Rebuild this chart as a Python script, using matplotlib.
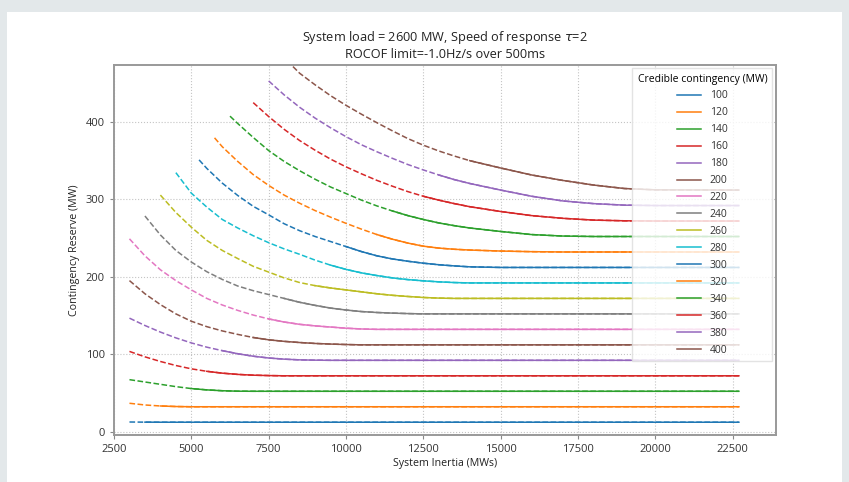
import matplotlib
matplotlib.use("Agg")
import matplotlib.pyplot as plt
from matplotlib.patches import Rectangle

# ---------------- data ----------------
contingency = [100, 120, 140, 160, 180, 200, 220, 240, 260, 280, 300, 320, 340, 360, 380, 400]

# first point of every curve (inertia MWs, reserve MW)
start_inertia = [3000, 3000, 3000, 3000, 3000, 3000, 3000, 3500, 4000, 4500, 5250, 5750, 6250, 7000, 7500, 8100]
start_reserve = [12.3, 36.5, 67, 103.5, 146.5, 195, 249, 278.5, 305.5, 334.5, 351, 379.5, 407.5, 425, 453, 479]

# inertia above which the curve is drawn solid
solid_from = [3200, 4000, 4800, 5450, 6000, 6700, 7300, 8000, 8700, 9400, 10000, 10700, 11400, 12100, 12800, 13600]

inertia = [3000, 3500, 4000, 4500, 5000, 5500, 6000, 6500, 7000, 7500,
           8000, 8500, 9000, 9500, 10000, 10500, 11000, 11500, 12000, 12500,
           13000, 13500, 14000, 15000, 16000, 17000, 18000, 19000, 20000, 22700]

N = None
r100 = [N, 12.1, 12, 12, 12, 12, 12, 12, 12, 12, 12, 12, 12, 12, 12, 12, 12, 12, 12, 12, 12, 12, 12, 12, 12, 12, 12, 12, 12, 12]
r120 = [N, 34.3, 33, 32.3, 32, 32, 32, 32, 32, 32, 32, 32, 32, 32, 32, 32, 32, 32, 32, 32, 32, 32, 32, 32, 32, 32, 32, 32, 32, 32]
r140 = [N, 64, 61, 58, 55.5, 53.8, 52.7, 52.1, 52, 52, 52, 52, 52, 52, 52, 52, 52, 52, 52, 52, 52, 52, 52, 52, 52, 52, 52, 52, 52, 52]
r160 = [N, 96.5, 90.5, 85.3, 81, 77.8, 75.4, 73.8, 72.8, 72.3, 72, 72, 72, 72, 72, 72, 72, 72, 72, 72, 72, 72, 72, 72, 72, 72, 72, 72, 72, 72]
r180 = [N, 137, 128.5, 121, 114.5, 109, 104.5, 100.5, 97.3, 95, 93.5, 92.6, 92.2, 92, 92, 92, 92, 92, 92, 92, 92, 92, 92, 92, 92, 92, 92, 92, 92, 92]
r200 = [N, 178, 164, 152, 142.5, 135.5, 130, 125.5, 121.5, 118.5, 116.5, 115, 113.8, 113, 112.4, 112, 112, 112, 112, 112, 112, 112, 112, 112, 112, 112, 112, 112, 112, 112]
r220 = [N, 227, 209, 195, 183, 172, 163.5, 156.5, 150.5, 145.5, 141.5, 138.5, 136.5, 135, 133.5, 132.5, 132, 132, 132, 132, 132, 132, 132, 132, 132, 132, 132, 132, 132, 132]
r240 = [N, N, 254, 234, 219, 206.5, 196.5, 188, 182, 177, 172, 167, 163, 159.5, 157, 155, 153.8, 153, 152.4, 152, 152, 152, 152, 152, 152, 152, 152, 152, 152, 152]
r260 = [N, N, N, 283, 264, 247, 234, 223.5, 213.5, 206, 198.5, 192.5, 188.5, 185.5, 183, 180.5, 178, 176, 174.5, 173.2, 172.4, 172, 172, 172, 172, 172, 172, 172, 172, 172]
r280 = [N, N, N, N, 308, 290, 274, 263, 253, 244, 236, 229, 221.5, 215, 209.5, 205, 201.5, 198.5, 196.3, 194.7, 193.4, 192.5, 192, 192, 192, 192, 192, 192, 192, 192]
r300 = [N, N, N, N, N, 340, 321, 305, 291, 280, 268.5, 259.5, 252, 245.5, 239, 232.5, 227, 223, 220, 217.5, 215.5, 214, 212.8, 212, 212, 212, 212, 212, 212, 212]
r320 = [N, N, N, N, N, N, 368, 349, 332, 318, 305.5, 295, 285.5, 277, 269, 261.5, 254.5, 248.5, 243.5, 239.5, 237, 235.5, 234.5, 233.2, 232.4, 232, 232, 232, 232, 232]
r340 = [N, N, N, N, N, N, N, 398, 380, 363, 349, 337, 326, 316, 307.5, 299, 291.5, 285, 279, 274, 269.5, 266, 263, 258.5, 254.5, 252.6, 252, 252, 252, 252]
r360 = [N, N, N, N, N, N, N, N, N, 407, 390.5, 376, 363.5, 352, 342, 333, 324.5, 317, 310, 304, 299, 294.5, 290.5, 284.3, 279, 275.5, 273.2, 272.3, 272, 272]
r380 = [N, N, N, N, N, N, N, N, N, N, 435, 419, 405, 392.5, 381, 370.5, 361.5, 353, 345, 338, 331.5, 325.5, 320.5, 312, 304, 298, 294.5, 292.5, 292, 292]
r400 = [N, N, N, N, N, N, N, N, N, N, N, 463, 448, 434, 421.5, 410, 399, 388.5, 378.5, 370, 362.5, 356, 350, 340.5, 331.5, 324.5, 318.5, 314, 312.3, 312]

reserves = [r100, r120, r140, r160, r180, r200, r220, r240, r260, r280,
            r300, r320, r340, r360, r380, r400]

title_text = "System load = 2600 MW, Speed of response $\\tau$=2\nROCOF limit=-1.0Hz/s over 500ms"
xlabel_text = "System Inertia (MWs)"
ylabel_text = "Contingency Reserve (MW)"
legend_title = "Credible contingency (MW)"
xticks = [2500, 5000, 7500, 10000, 12500, 15000, 17500, 20000, 22500]
yticks = [0, 100, 200, 300, 400]

# ---------------- figure ----------------
plt.rcParams["font.family"] = ["Open Sans", "DejaVu Sans"]

W, H = 849, 482
fig = plt.figure(figsize=(W / 100, H / 100), dpi=100, facecolor="#e3e8ea")
fig.patches.append(Rectangle((7 / W, 0), (W - 14) / W, (H - 12) / H,
                             transform=fig.transFigure, facecolor="white",
                             edgecolor="none", zorder=-10))

left, right, top, bottom = 114, 776, 64.7, 435
ax = fig.add_axes([left / W, 1 - bottom / H, (right - left) / W, (bottom - top) / H])
ax.set_zorder(1)

colors = plt.rcParams["axes.prop_cycle"].by_key()["color"]

for i, c in enumerate(contingency):
    col = colors[i % len(colors)]
    xs = [start_inertia[i]]
    ys = [start_reserve[i]]
    for h, r in zip(inertia, reserves[i]):
        if r is not None and h > start_inertia[i]:
            xs.append(h)
            ys.append(r)
    sx = [x for x in xs if x >= solid_from[i]]
    sy = [y for x, y in zip(xs, ys) if x >= solid_from[i]]
    ax.plot(sx, sy, "-", color=col, lw=1.1, label=str(c))
    ax.plot(xs, ys, "--", color=col, lw=1.1)

ax.set_xlim(2500, 23900)
ax.set_ylim(-4.5, 474)
ax.set_xticks(xticks)
ax.set_yticks(yticks)
ax.grid(True, linestyle=":", color="#c4c4c4", lw=0.8)
ax.set_axisbelow(True)

for s in ax.spines.values():
    s.set_color("#999999")
    s.set_linewidth(1.4)
ax.tick_params(colors="#333333", labelsize=8, length=3, width=0.8)
ax.tick_params(axis="both", color="#888888")

ax.set_xlabel(xlabel_text, fontsize=7.7, color="#222222", labelpad=2)
ax.set_ylabel(ylabel_text, fontsize=7.7, color="#222222", labelpad=4)
ax.set_title(title_text, fontsize=9.2, color="#222222", pad=5, linespacing=1.15)

leg = ax.legend(title=legend_title, loc="upper right", fontsize=7.5,
                title_fontsize=7.5, framealpha=0.8, borderaxespad=0.35,
                labelspacing=0.57, handlelength=2.3, fancybox=False,
                borderpad=0.5, edgecolor="#dddddd")
for t in leg.get_texts():
    t.set_color("#333333")

fig.savefig("out.png", dpi=100, facecolor=fig.get_facecolor())
